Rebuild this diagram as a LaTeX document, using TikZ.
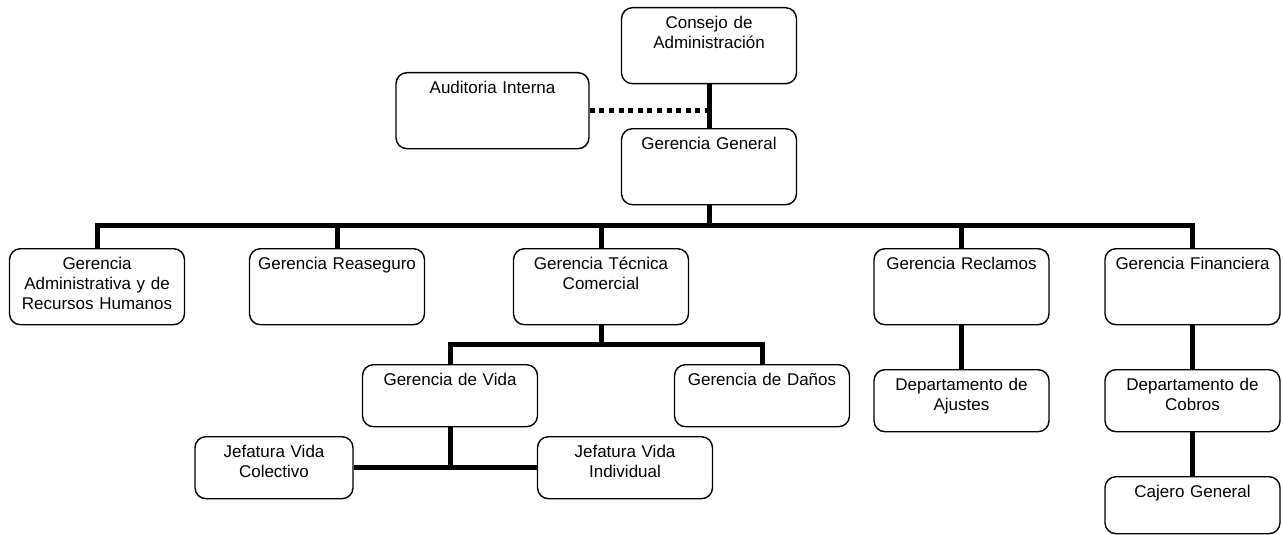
\documentclass[tikz,border=0pt]{standalone}
\usepackage{fontspec}
\setmainfont{Liberation Sans}
\usetikzlibrary{positioning,calc}
\newcommand{\orgfont}{\fontsize{17}{20}\selectfont}
\tikzset{
  orgbox/.style={draw, line width=1.4pt, rounded corners=11pt, anchor=north,
                 align=center, inner sep=4pt, text width=167pt,
                 text height=17pt, text depth=51pt, font=\orgfont},
  midbox/.style={orgbox, text depth=37pt},
  link/.style={line width=5pt},
  dotlink/.style={line width=4.5pt, dash pattern=on 5pt off 4.6pt}}

\begin{document}
\begin{tikzpicture}[x=1pt, y=1pt]
        \useasboundingbox (0,0) rectangle (1283,-535);
        % top of the chart
        \node[orgbox] (consejo) at (709,-7) {Consejo de\\ Administración};
        \node[orgbox, text width=185pt] (auditoria) at (492.5,-72) {Auditoria Interna};
        \node[orgbox] (general) at (709,-128) {Gerencia General};
        \draw[link] (consejo.south) -- (general.north);
        \draw[dotlink] (auditoria.east) -- (auditoria.east -| consejo.south);
        % first level of gerencias
        \node[orgbox] (admin)      at (97,-248)    {Gerencia\\ Administrativa y de\\ Recursos Humanos};
        \node[orgbox] (reaseguro)  at (337,-248)   {Gerencia Reaseguro};
        \node[orgbox] (tecnica)    at (601,-248)   {Gerencia Técnica\\ Comercial};
        \node[orgbox] (reclamos)   at (961.5,-248) {Gerencia Reclamos};
        \node[orgbox] (financiera) at (1192.5,-248) {Gerencia Financiera};
        \coordinate (bus) at (709,-225);
        \draw[link] (general.south) -- (bus);
        \foreach \n in {admin,reaseguro,tecnica,reclamos,financiera}
          \draw[link] (bus) -| (\n.north);
        % tecnica comercial branch
        \node[midbox] (vida)  at (450,-364) {Gerencia de Vida};
        \node[midbox] (danos) at (762,-364) {Gerencia de Daños};
        \coordinate (tbus) at (601,-344);
        \draw[link] (tecnica.south) -- (tbus);
        \draw[link] (tbus) -| (vida.north);
        \draw[link] (tbus) -| (danos.north);
        \node[midbox, text width=150pt] (colectivo) at (274,-436) {Jefatura Vida\\ Colectivo};
        \node[midbox] (individual) at (625,-436) {Jefatura Vida\\ Individual};
        \draw[link] (colectivo.east) -- (individual.west);
        \draw[link] (vida.south) -- (vida.south |- colectivo.east);
        % reclamos and financiera branches
        \node[midbox] (ajustes) at (961.5,-369)  {Departamento de\\ Ajustes};
        \node[midbox] (cobros)  at (1192.5,-369) {Departamento de\\ Cobros};
        \node[midbox, text depth=32pt] (cajero) at (1192.5,-476) {Cajero General};
        \draw[link] (reclamos.south) -- (ajustes.north);
        \draw[link] (financiera.south) -- (cobros.north);
        \draw[link] (cobros.south) -- (cajero.north);
      \end{tikzpicture}
\end{document}
